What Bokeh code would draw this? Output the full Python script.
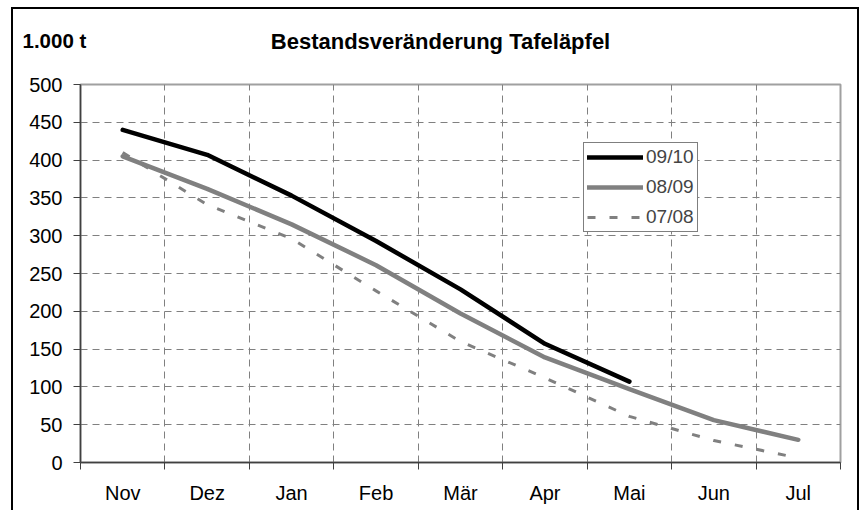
from bokeh.plotting import figure
from bokeh.models import Range1d, FixedTicker, Legend, LegendItem, Label
from bokeh.embed import file_html
from bokeh.resources import INLINE

months = ["Nov", "Dez", "Jan", "Feb", "Mär", "Apr", "Mai", "Jun", "Jul"]
series_names = ["09/10", "08/09", "07/08"]
v_0910 = [440, 407, 353, 293, 229, 157, 107]
v_0809 = [405, 362, 315, 261, 197, 139, 97, 56, 30]
v_0708 = [410, 341, 296, 227, 160, 112, 61, 29, 6]
y_ticks = [0, 50, 100, 150, 200, 250, 300, 350, 400, 450, 500]
title_text = "Bestandsveränderung Tafeläpfel"
unit_text = "1.000 t"

FONT = "Liberation Sans"
GRID = "#808080"

p = figure(width=848, height=503, output_backend="svg", toolbar_location=None,
           x_range=Range1d(0, len(months)), y_range=Range1d(0, 500),
           min_border_left=67, min_border_right=21, min_border_top=75, min_border_bottom=50,
           background_fill_color="white", border_fill_color="white")
p.styles = {"border-left": "2px solid black", "border-top": "2px solid black",
            "border-right": "2px solid black", "margin-left": "11px", "margin-top": "7px"}

p.outline_line_color = "#a0a0a0"
p.outline_line_width = 2

centers = [i + 0.5 for i in range(len(months))]
bounds = list(range(len(months) + 1))

# x axis
xa = p.xaxis[0]
xa.ticker = FixedTicker(ticks=centers, minor_ticks=bounds)
xa.major_label_overrides = {c: m for c, m in zip(centers, months)}
xa.major_tick_out = 0
xa.major_tick_in = 0
xa.minor_tick_out = 7
xa.minor_tick_in = 0
xa.minor_tick_line_color = "#404040"
xa.axis_line_color = "#404040"
xa.axis_line_width = 1.5
xa.major_label_text_font = FONT
xa.major_label_text_font_size = "20px"
xa.major_label_text_color = "black"
xa.major_label_standoff = 12

# y axis
ya = p.yaxis[0]
ya.ticker = FixedTicker(ticks=y_ticks)
ya.major_tick_out = 7
ya.major_tick_in = 0
ya.minor_tick_out = 0
ya.minor_tick_in = 0
ya.major_tick_line_color = "#404040"
ya.axis_line_color = "#404040"
ya.axis_line_width = 1.5
ya.major_label_text_font = FONT
ya.major_label_text_font_size = "20px"
ya.major_label_text_color = "black"
ya.major_label_standoff = 11

# grids
p.xgrid.grid_line_color = None
p.xgrid.minor_grid_line_color = GRID
p.xgrid.minor_grid_line_dash = "7 5"
p.xgrid.minor_grid_line_width = 1
p.ygrid.ticker = FixedTicker(ticks=y_ticks)
p.ygrid.grid_line_color = GRID
p.ygrid.grid_line_dash = "7 5"
p.ygrid.grid_line_width = 1

r1 = p.line(centers[:len(v_0910)], v_0910, line_color="black", line_width=4.5,
            line_join="round", line_cap="round")
r2 = p.line(centers[:len(v_0809)], v_0809, line_color="#808080", line_width=4.5,
            line_join="round", line_cap="round")
r3 = p.line(centers[:len(v_0708)], v_0708, line_color="#808080", line_width=3,
            line_dash="8 14")

legend = Legend(items=[LegendItem(label=series_names[0], renderers=[r1]),
                       LegendItem(label=series_names[1], renderers=[r2]),
                       LegendItem(label=series_names[2], renderers=[r3])],
                location=(503, 230), orientation="vertical",
                border_line_color="black", border_line_width=1,
                background_fill_color="white", background_fill_alpha=1,
                label_text_font=FONT, label_text_font_size="19px",
                glyph_width=56, glyph_height=20, label_height=20,
                label_standoff=3, spacing=8, padding=3, margin=0)
p.add_layout(legend, "center")

# title and unit label in the top side panel (screen units relative to the panel)
p.add_layout(Label(x=360, y=43, x_units="screen", y_units="screen",
                   text=title_text, text_align="center",
                   text_baseline="alphabetic", text_font=FONT, text_font_style="bold",
                   text_font_size="22px", text_color="black"), "above")
p.add_layout(Label(x=-58, y=19, x_units="screen", y_units="screen",
                   text=unit_text, text_align="left",
                   text_baseline="alphabetic", text_font=FONT, text_font_style="bold",
                   text_font_size="20.5px", text_color="black"), "above")

open("out.html", "w").write(file_html(p, INLINE))
